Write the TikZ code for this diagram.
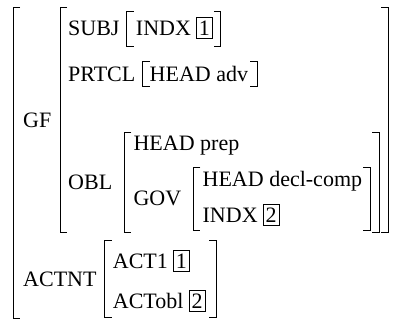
\documentclass[tikz,border=0pt]{standalone}
\usepackage{fontspec}
\setmainfont{Liberation Serif}
\usetikzlibrary{positioning}
\tikzset{
  attr/.style={anchor=base west, inner sep=0pt, font=\rmfamily\fontsize{22}{26}\selectfont},
  tagbox/.style={draw, line width=0.7pt, inner xsep=2.5pt, inner ysep=3.5pt, anchor=base west, font=\rmfamily\fontsize{22}{26}\selectfont},
  brk/.style={line width=1pt},
}

\begin{document}
\begin{tikzpicture}[x=1pt,y=-1pt]
  \useasboundingbox (0,0) rectangle (394,324);
  \coordinate (l0) at (13,0);
  \coordinate (lg) at (60,0);
  % GF value
  \node[attr] (gf) at (23,127) {GF};
  \node[attr] (subj) at (68,35) {SUBJ};
  \coordinate (l1) at ([xshift=7pt]subj.east);
  \node[attr] (indx1) at ([xshift=16pt]subj.base east) {INDX};
  \node[tagbox] (tag1) at ([xshift=5pt]indx1.base east) {1};
  \coordinate (r1) at ([xshift=8pt]tag1.east);
  \node[attr] (prtcl) at (68,81) {PRTCL};
  \coordinate (l2) at ([xshift=7pt]prtcl.east);
  \node[attr] (headadv) at ([xshift=14pt]prtcl.base east) {HEAD adv};
  \coordinate (r2) at ([xshift=9pt]headadv.east);
  \node[attr] (obl) at (68,189) {OBL};
  \coordinate (l3) at ([xshift=12pt]obl.east);
  \node[attr, xshift=9pt] (headprep) at (l3 |- 0,150) {HEAD prep};
  \node[attr] (gov) at (headprep.base west |- 0,205) {GOV};
  \coordinate (l4) at ([xshift=12pt]gov.east);
  \node[attr, xshift=9pt] (headdecl) at (l4 |- 0,186) {HEAD decl-comp};
  \node[attr] (indx2) at (headdecl.base west |- 0,222) {INDX};
  \node[tagbox] (tag2) at ([xshift=5pt]indx2.base east) {2};
  \coordinate (r4) at ([xshift=8pt]headdecl.east);
  \coordinate (r3) at ([xshift=9pt]r4);
  \coordinate (r5) at ([xshift=9pt]r3);
  % ACTNT value
  \node[attr] (actnt) at (23,286) {ACTNT};
  \coordinate (l6) at ([xshift=8pt]actnt.east);
  \node[attr, xshift=8pt] (actone) at (l6 |- 0,268) {ACT1};
  \node[tagbox] (tag1b) at ([xshift=5pt]actone.base east) {1};
  \node[attr] (actobl) at (actone.base west |- 0,308) {ACTobl};
  \node[tagbox] (tag2b) at ([xshift=5pt]actobl.base east) {2};
  \coordinate (r6) at ([xshift=11pt]tag2b.east);
  % brackets: corner/top/bottom
  \foreach \p/\t/\b in {l0/7/318, lg/7/232, l1/11/46, l2/61/86, l3/132/232, l4/167/230, l6/240/317}
    {\draw[brk] (\p |- 0,\t) ++(7,0) -- (\p |- 0,\t) -- (\p |- 0,\b) -- ++(7,0);}
  \foreach \p/\t/\b in {r1/11/46, r2/61/86, r4/167/230, r3/132/232, r5/7/232, r6/240/317}
    {\draw[brk] (\p |- 0,\t) ++(-7,0) -- (\p |- 0,\t) -- (\p |- 0,\b) -- ++(-7,0);}
\end{tikzpicture}
\end{document}
